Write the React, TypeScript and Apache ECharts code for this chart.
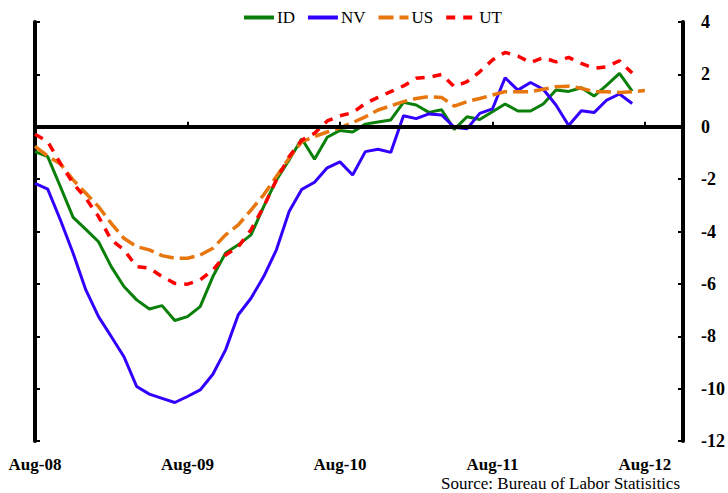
import React, { useEffect, useRef } from "react";
import * as echarts from "echarts";

const months = [
  "Aug-08","Sep-08","Oct-08","Nov-08","Dec-08","Jan-09","Feb-09","Mar-09","Apr-09","May-09","Jun-09","Jul-09",
  "Aug-09","Sep-09","Oct-09","Nov-09","Dec-09","Jan-10","Feb-10","Mar-10","Apr-10","May-10","Jun-10","Jul-10",
  "Aug-10","Sep-10","Oct-10","Nov-10","Dec-10","Jan-11","Feb-11","Mar-11","Apr-11","May-11","Jun-11","Jul-11",
  "Aug-11","Sep-11","Oct-11","Nov-11","Dec-11","Jan-12","Feb-12","Mar-12","Apr-12","May-12","Jun-12","Jul-12",
  "Aug-12","Sep-12","Oct-12","Nov-12",
];

const idValues = [
  -0.95, -1.14, -2.29, -3.46, -3.92, -4.39, -5.34, -6.1, -6.61, -6.96, -6.83, -7.4,
  -7.25, -6.87, -5.72, -4.82, -4.51, -4.13, -3.05, -2.03, -1.27, -0.46, -1.24, -0.4,
  -0.14, -0.2, 0.1, 0.18, 0.26, 0.93, 0.83, 0.55, 0.65, -0.1, 0.38, 0.28,
  0.57, 0.87, 0.6, 0.6, 0.87, 1.4, 1.35, 1.49, 1.17, 1.59, 2.04, 1.36,
];

const nvValues = [
  -2.16, -2.38, -3.56, -4.83, -6.23, -7.25, -8.01, -8.78, -9.92, -10.21, -10.37, -10.53,
  -10.3, -10.05, -9.45, -8.52, -7.18, -6.55, -5.72, -4.7, -3.24, -2.39, -2.12, -1.57,
  -1.34, -1.84, -0.95, -0.86, -0.98, 0.42, 0.31, 0.49, 0.45, -0.02, -0.08, 0.51,
  0.68, 1.87, 1.4, 1.69, 1.43, 0.83, 0.05, 0.61, 0.54, 1.02, 1.25, 0.89,
];

const usValues = [
  -0.75, -1.12, -1.42, -2.03, -2.54, -3.05, -3.69, -4.26, -4.58, -4.7, -4.92, -5.02,
  -5.02, -4.9, -4.64, -4.13, -3.75, -3.18, -2.6, -1.9, -1.2, -0.57, -0.37, -0.2,
  -0.04, 0.16, 0.38, 0.64, 0.8, 0.96, 1.08, 1.15, 1.12, 0.79, 0.96, 1.08,
  1.21, 1.34, 1.34, 1.34, 1.43, 1.53, 1.55, 1.47, 1.34, 1.34, 1.31, 1.34,
  1.38,
];

const utValues = [
  -0.29, -0.57, -1.4, -2.16, -2.73, -3.43, -4.32, -4.7, -5.34, -5.4, -5.72, -5.98,
  -6.01, -5.85, -5.47, -4.9, -4.58, -3.94, -3.05, -2.03, -1.14, -0.51, -0.25, 0.22,
  0.42, 0.54, 0.89, 1.12, 1.34, 1.56, 1.85, 1.89, 2.0, 1.53, 1.72, 2.1,
  2.55, 2.84, 2.7, 2.45, 2.64, 2.48, 2.65, 2.42, 2.23, 2.29, 2.52, 2.05,
];

const yTicks = { min: -12, max: 4, interval: 2 };

const SERIF = "'Liberation Serif', 'Times New Roman', serif";

export default function App() {
  const ref = useRef<HTMLDivElement>(null);

  useEffect(() => {
    if (!ref.current) return;
    const chart = echarts.init(ref.current, undefined, { renderer: "svg" });
    const showEvery12 = (i: number) => i % 12 === 0;
    const axisLineStyle = { color: "#000", width: 4 };

    chart.setOption({
      animation: false,
      backgroundColor: "#fff",
      textStyle: { fontFamily: SERIF },
      legend: {
        top: 4,
        left: 237,
        itemWidth: 30,
        itemHeight: 14,
        itemGap: 11,
        itemStyle: { opacity: 0 },
        lineStyle: { width: 4 },
        textStyle: { fontFamily: SERIF, fontSize: 17, color: "#000", padding: [0, 0, 0, -2] },
        data: ["ID", "NV", "US", "UT"],
      },
      grid: { left: 35, right: 45, top: 22, bottom: 52, containLabel: false },
      xAxis: {
        type: "category",
        data: months,
        boundaryGap: false,
        axisLine: { show: true, lineStyle: axisLineStyle },
        axisTick: {
          show: true,
          inside: true,
          length: 5,
          interval: (i: number) => showEvery12(i),
          lineStyle: { color: "#000", width: 2 },
        },
        axisLabel: {
          interval: (i: number) => showEvery12(i),
          margin: 15,
          fontFamily: SERIF,
          fontSize: 17,
          fontWeight: "bold",
          color: "#000",
        },
        splitLine: { show: false },
      },
      yAxis: [
        {
          type: "value",
          position: "right",
          min: yTicks.min,
          max: yTicks.max,
          interval: yTicks.interval,
          axisLine: { show: true, onZero: false, lineStyle: axisLineStyle },
          axisTick: { show: true, inside: true, length: 5, lineStyle: { color: "#000", width: 2 } },
          axisLabel: {
            margin: 18,
            fontFamily: SERIF,
            fontSize: 18,
            fontWeight: "bold",
            color: "#000",
          },
          splitLine: { show: false },
        },
        {
          type: "value",
          position: "left",
          min: yTicks.min,
          max: yTicks.max,
          interval: yTicks.interval,
          axisLine: { show: true, onZero: false, lineStyle: axisLineStyle },
          axisTick: { show: true, inside: true, length: 5, lineStyle: { color: "#000", width: 2 } },
          axisLabel: { show: false },
          splitLine: { show: false },
        },
      ],
      series: [
        {
          name: "ID",
          type: "line",
          data: idValues,
          showSymbol: false,
          symbol: "none",
          lineStyle: { color: "#0a800a", width: 3 },
          itemStyle: { color: "#0a800a" },
          markLine: {
            silent: true,
            symbol: "none",
            label: { show: false },
            lineStyle: { color: "#000", width: 4, type: "solid" },
            data: [{ yAxis: 0 }],
          },
        },
        {
          name: "NV",
          type: "line",
          data: nvValues,
          showSymbol: false,
          symbol: "none",
          lineStyle: { color: "#3300ff", width: 3 },
          itemStyle: { color: "#3300ff" },
        },
        {
          name: "US",
          type: "line",
          data: usValues,
          showSymbol: false,
          symbol: "none",
          lineStyle: { color: "#e8760e", width: 3.5, type: [15, 6] },
          itemStyle: { color: "#e8760e" },
        },
        {
          name: "UT",
          type: "line",
          data: utValues,
          showSymbol: false,
          symbol: "none",
          lineStyle: { color: "#ff0000", width: 3.5, type: [9, 8] },
          itemStyle: { color: "#ff0000" },
        },
      ],
      graphic: [
        {
          type: "text",
          right: 48,
          top: 475,
          style: {
            text: "Source: Bureau of Labor Statisitics",
            fontFamily: SERIF,
            fontSize: 17,
            fill: "#000",
          },
        },
      ],
    });

    return () => chart.dispose();
  }, []);

  return (
    <div
      ref={ref}
      style={{ position: "fixed", left: 0, top: 0, width: 728, height: 493 }}
    />
  );
}
